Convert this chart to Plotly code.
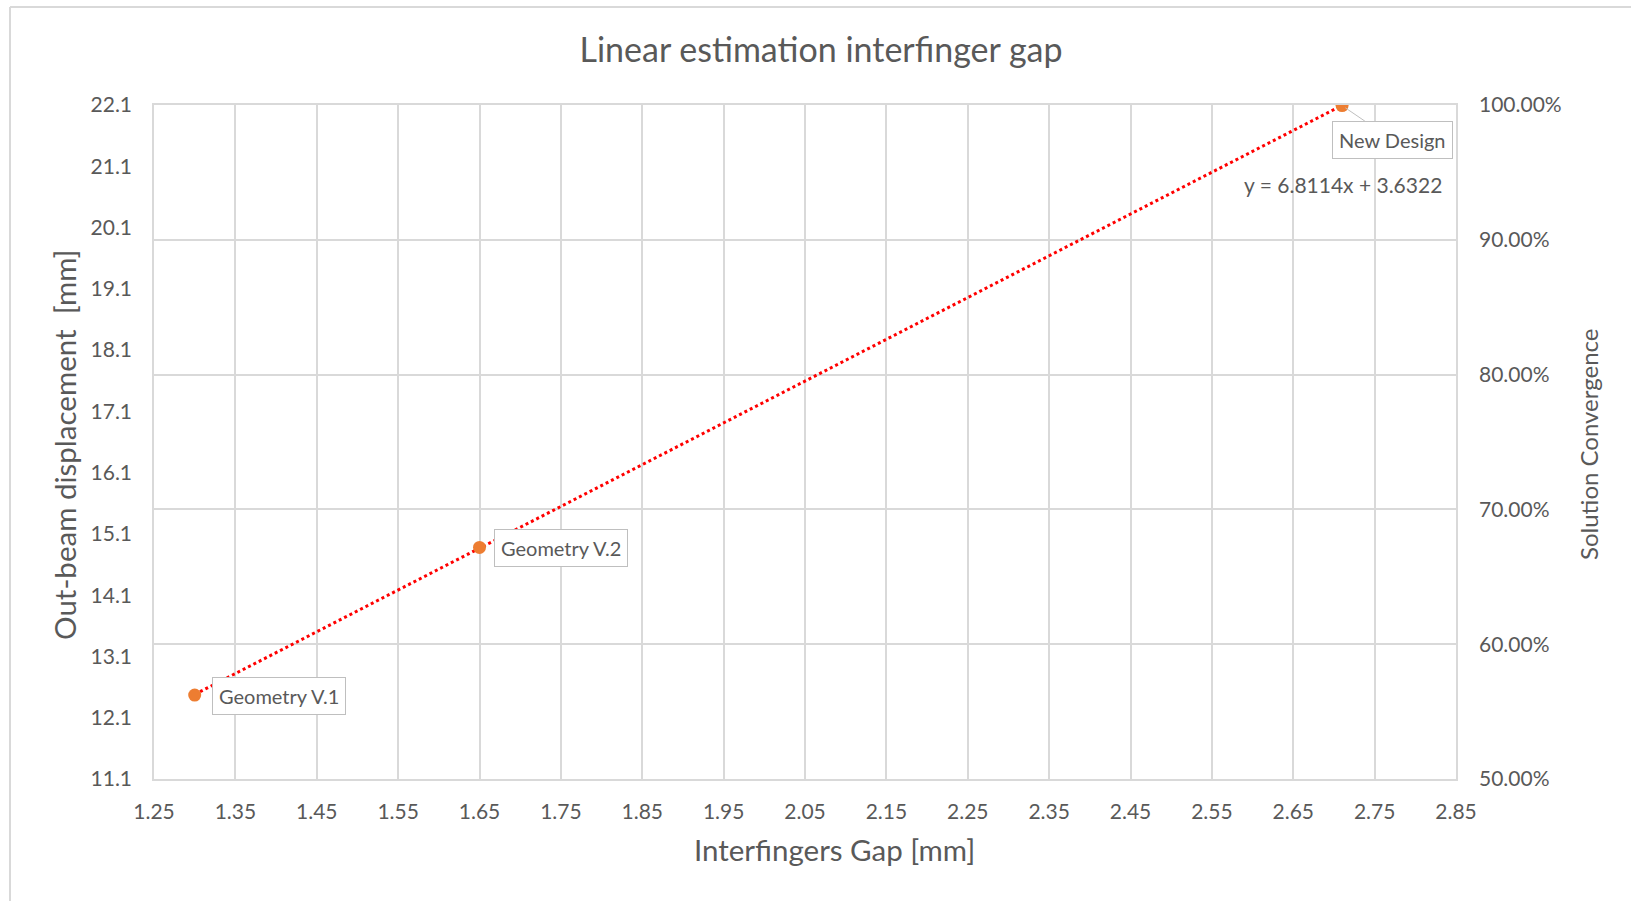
import numpy as np
import plotly.graph_objects as go

# ---- data ----
gap_mm = [1.30, 1.65, 2.71]
displacement_mm = [12.47, 14.88, 22.09]
labels = ["Geometry V.1", "Geometry V.2", "New Design"]
x_ticks = [1.25, 1.35, 1.45, 1.55, 1.65, 1.75, 1.85, 1.95, 2.05, 2.15, 2.25, 2.35, 2.45, 2.55, 2.65, 2.75, 2.85]
y_ticks = [11.1, 12.1, 13.1, 14.1, 15.1, 16.1, 17.1, 18.1, 19.1, 20.1, 21.1, 22.1]
y2_ticks = [0.5, 0.6, 0.7, 0.8, 0.9, 1.0]

W, H = 1631, 901
L, R, T, B = 154, 1456, 105, 779
FONT = "Lato"
GREY = "#595959"
GRID = "#d9d9d9"

slope, intercept = np.polyfit(gap_mm, displacement_mm, 1)
slope_txt, int_txt = 6.8114, 3.6322  # as printed on chart
x_fit = np.array([min(gap_mm), max(gap_mm)])
y_fit = slope * x_fit + intercept

pw, ph = R - L, B - T
px = lambda p: (p - L) / pw
py = lambda p: (B - p) / ph

fig = go.Figure()
fig.add_trace(go.Scatter(x=list(x_fit), y=list(y_fit), mode="lines",
                         line=dict(color="#ff0000", width=3, dash="dot"),
                         showlegend=False, hoverinfo="skip"))
fig.add_trace(go.Scatter(x=gap_mm, y=displacement_mm, mode="markers",
                         marker=dict(color="#ED7D31", size=13),
                         showlegend=False))
# invisible trace to activate secondary axis
fig.add_trace(go.Scatter(x=[gap_mm[0]], y=[y2_ticks[0]], yaxis="y2", mode="markers",
                         marker=dict(opacity=0), showlegend=False, hoverinfo="skip"))

ann = []
for i in range(2):
    ann.append(dict(x=gap_mm[i], y=displacement_mm[i], xref="x", yref="y",
                    text=labels[i], showarrow=False, xanchor="left", yanchor="middle",
                    xshift=17 if i == 0 else 14, yshift=-1,
                    font=dict(family=FONT, size=20, color=GREY),
                    bgcolor="white", bordercolor="#bfbfbf", borderwidth=1, borderpad=6))
ann.append(dict(x=gap_mm[2], y=displacement_mm[2], xref="x", yref="y",
                text=labels[2], showarrow=True, arrowhead=0, arrowcolor="#bfbfbf", arrowwidth=1,
                ax=50, ay=34, standoff=4,
                font=dict(family=FONT, size=20, color=GREY),
                bgcolor="white", bordercolor="#bfbfbf", borderwidth=1, borderpad=6))
ann.append(dict(x=2.835, y=20.8, xref="x", yref="y",
                text=f"y = {slope_txt:.4f}x + {int_txt:.4f}", showarrow=False,
                xanchor="right", yanchor="middle",
                font=dict(family=FONT, size=21, color=GREY)))
# axis titles
ann.append(dict(x=px(834), y=py(849), xref="paper", yref="paper", text="Interfingers Gap [mm]",
                showarrow=False, xanchor="center", yanchor="middle",
                font=dict(family=FONT, size=29.5, color=GREY)))
ann.append(dict(x=px(64), y=py(445), xref="paper", yref="paper", text="Out-beam displacement  [mm]",
                showarrow=False, xanchor="center", yanchor="middle", textangle=-90,
                font=dict(family=FONT, size=29.5, color=GREY)))
ann.append(dict(x=px(1588), y=py(444), xref="paper", yref="paper", text="Solution Convergence",
                showarrow=False, xanchor="center", yanchor="middle", textangle=-90,
                font=dict(family=FONT, size=24, color=GREY)))

shapes = [
    dict(type="line", xref="paper", yref="paper", x0=px(10), x1=px(10), y0=py(H + 5), y1=py(7),
         line=dict(color="#d9d9d9", width=2)),
    dict(type="line", xref="paper", yref="paper", x0=px(10), x1=px(W + 5), y0=py(7), y1=py(7),
         line=dict(color="#d9d9d9", width=2)),
]

fig.update_layout(
    width=W, height=H,
    margin=dict(l=L, r=W - R, t=T, b=H - B),
    paper_bgcolor="white", plot_bgcolor="white",
    font=dict(family=FONT, color=GREY),
    title=dict(text="Linear estimation interfinger gap", x=821 / W, xanchor="center",
               y=1 - 50 / H, yanchor="middle", font=dict(family=FONT, size=34, color=GREY)),
    xaxis=dict(range=[x_ticks[0], x_ticks[-1]], tickvals=x_ticks, ticktext=[f"{v:.2f}" for v in x_ticks],
               showgrid=True, gridcolor=GRID, gridwidth=1.5, zeroline=False,
               showline=True, linecolor=GRID, linewidth=1.5, mirror=True,
               ticks="", ticklabelstandoff=13,
               tickfont=dict(family=FONT, size=21, color=GREY)),
    yaxis=dict(range=[y_ticks[0], y_ticks[-1]], tickvals=y_ticks, ticktext=[f"{v:.1f}" for v in y_ticks],
               showgrid=False, zeroline=False,
               showline=True, linecolor=GRID, linewidth=1.5, mirror=True,
               ticks="", ticklabelstandoff=16,
               tickfont=dict(family=FONT, size=21, color=GREY)),
    yaxis2=dict(range=[y2_ticks[0], y2_ticks[-1]], tickvals=y2_ticks, tickformat=".2%",
                overlaying="y", side="right",
                showgrid=True, gridcolor=GRID, gridwidth=1.5, zeroline=False,
                ticks="", ticklabelstandoff=22,
                tickfont=dict(family=FONT, size=21, color=GREY)),
    annotations=ann,
    shapes=shapes,
)

fig.write_html("out.html")
